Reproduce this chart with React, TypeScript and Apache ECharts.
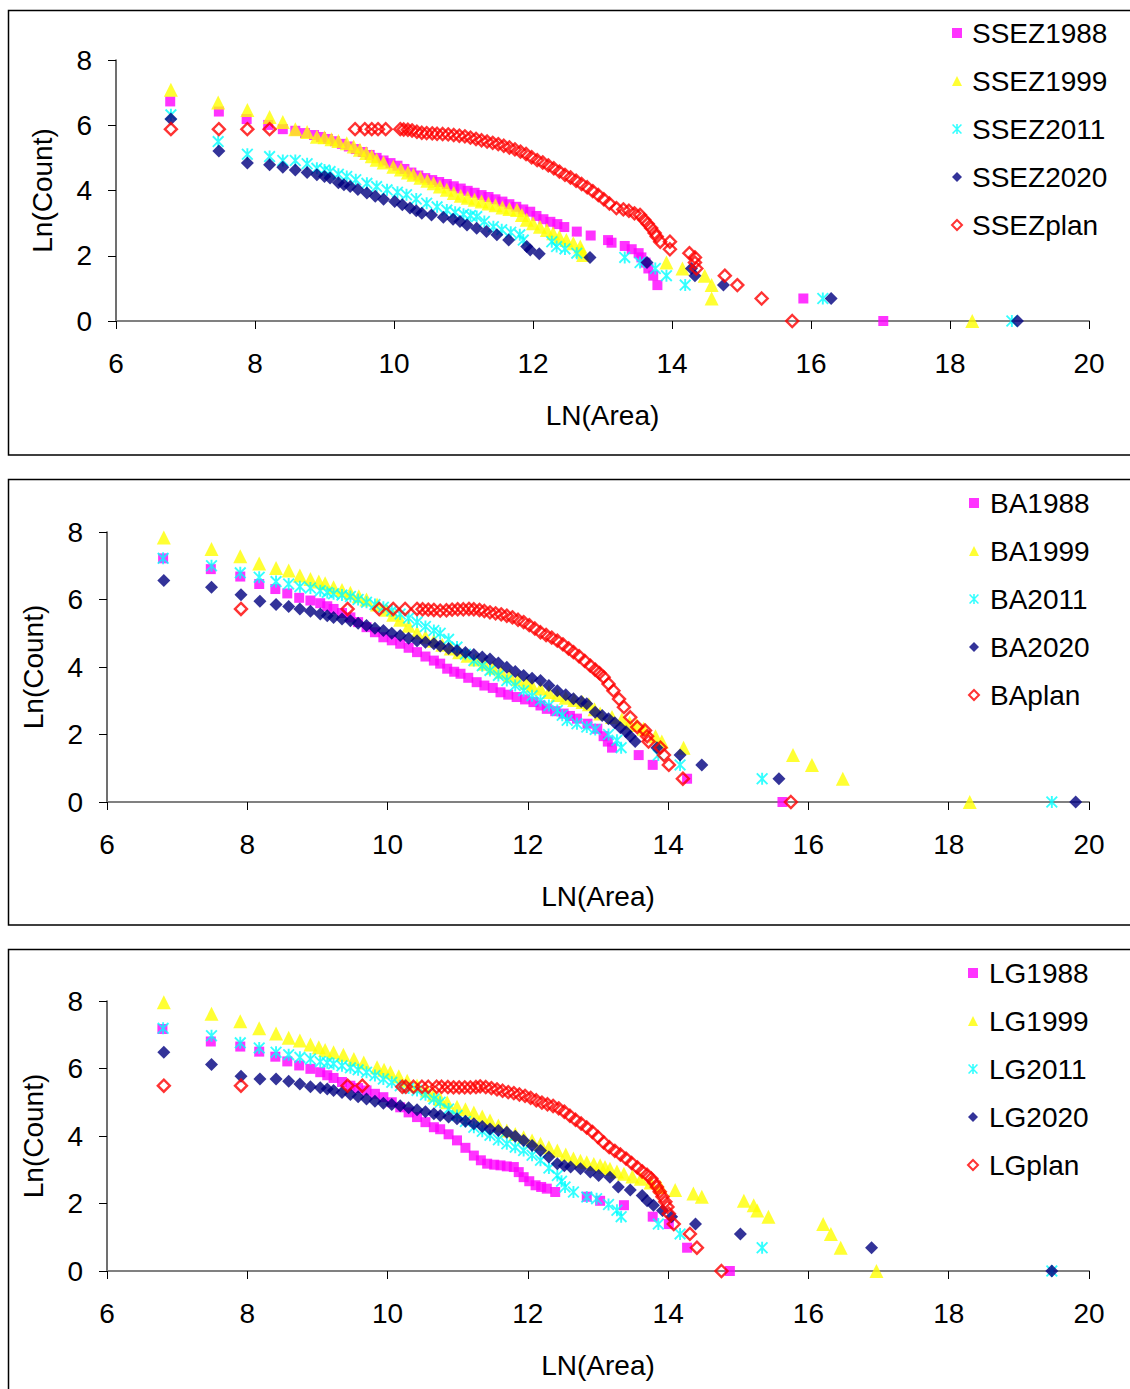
import React, { useEffect, useRef } from "react";
import * as echarts from "echarts";

// ---- SSEZ panel: [ln(area), ln(count)] ----
const ssez1988 = [[6.78,6.73],[7.48,6.42],[7.88,6.19],[8.19,6.01],[8.40,5.88],[8.58,5.83],[8.72,5.76],[8.85,5.70],[8.95,5.64],[9.05,5.58],[9.15,5.51],[9.25,5.43],[9.35,5.35],[9.45,5.27],[9.55,5.18],[9.65,5.09],[9.75,5.00],[9.85,4.92],[9.95,4.84],[10.05,4.76],[10.15,4.66],[10.25,4.55],[10.35,4.46],[10.45,4.38],[10.55,4.32],[10.65,4.26],[10.76,4.20],[10.86,4.13],[10.96,4.06],[11.06,3.99],[11.16,3.93],[11.26,3.86],[11.36,3.80],[11.46,3.73],[11.56,3.66],[11.66,3.58],[11.76,3.50],[11.86,3.42],[11.96,3.35],[12.05,3.22],[12.15,3.12],[12.25,3.04],[12.35,2.97],[12.45,2.88],[12.63,2.74],[12.83,2.62],[13.08,2.48],[13.13,2.40],[13.32,2.30],[13.42,2.20],[13.52,2.08],[13.56,1.95],[13.62,1.79],[13.66,1.61],[13.73,1.39],[13.79,1.10],[15.89,0.69],[17.04,0]];
const ssez1999 = [[6.79,7.09],[7.47,6.70],[7.89,6.47],[8.21,6.25],[8.40,6.10],[8.58,5.88],[8.75,5.79],[8.89,5.65],[9.00,5.63],[9.10,5.57],[9.20,5.52],[9.32,5.45],[9.42,5.35],[9.51,5.25],[9.60,5.15],[9.68,5.05],[9.75,4.94],[9.85,4.86],[9.99,4.73],[10.10,4.64],[10.20,4.55],[10.28,4.48],[10.38,4.39],[10.48,4.30],[10.57,4.22],[10.66,4.12],[10.76,4.02],[10.86,3.92],[10.96,3.84],[11.06,3.78],[11.16,3.72],[11.26,3.66],[11.36,3.60],[11.46,3.55],[11.56,3.48],[11.66,3.43],[11.77,3.40],[11.84,3.25],[11.91,3.10],[12.00,3.00],[12.10,2.89],[12.20,2.79],[12.29,2.69],[12.38,2.58],[12.48,2.48],[12.58,2.38],[12.68,2.28],[12.70,2.15],[12.72,2.02],[13.92,1.79],[14.15,1.61],[14.47,1.39],[14.57,1.10],[14.57,0.69],[18.32,0]];
const ssez2011 = [[6.79,6.32],[7.47,5.50],[7.89,5.11],[8.21,5.04],[8.40,4.92],[8.58,4.92],[8.75,4.82],[8.89,4.68],[9.00,4.63],[9.08,4.58],[9.20,4.50],[9.32,4.43],[9.45,4.33],[9.61,4.22],[9.75,4.12],[9.90,4.02],[10.05,3.95],[10.18,3.87],[10.32,3.74],[10.47,3.61],[10.62,3.50],[10.76,3.40],[10.88,3.33],[11.00,3.27],[11.10,3.23],[11.19,3.20],[11.30,3.05],[11.43,2.89],[11.55,2.80],[11.68,2.72],[11.81,2.64],[11.86,2.48],[12.27,2.43],[12.34,2.28],[12.46,2.21],[12.63,2.08],[13.32,1.95],[13.54,1.79],[13.76,1.61],[13.92,1.39],[14.19,1.10],[16.17,0.69],[18.89,0]];
const ssez2020 = [[6.79,6.19],[7.48,5.21],[7.89,4.84],[8.21,4.79],[8.40,4.71],[8.58,4.63],[8.75,4.55],[8.89,4.48],[9.00,4.43],[9.08,4.38],[9.20,4.24],[9.28,4.18],[9.37,4.12],[9.48,4.03],[9.61,3.92],[9.73,3.82],[9.85,3.73],[10.01,3.66],[10.12,3.56],[10.23,3.46],[10.32,3.38],[10.40,3.30],[10.54,3.25],[10.71,3.18],[10.85,3.12],[10.95,3.05],[11.05,2.94],[11.19,2.84],[11.33,2.74],[11.48,2.64],[11.65,2.48],[11.91,2.28],[11.96,2.18],[12.09,2.06],[12.82,1.95],[13.64,1.79],[14.28,1.61],[14.33,1.39],[14.74,1.10],[16.29,0.69],[18.97,0]];
const ssezPlan = [[6.79,5.88],[7.48,5.88],[7.89,5.88],[8.21,5.88],[9.44,5.88],[9.58,5.88],[9.68,5.88],[9.77,5.88],[9.88,5.88],[10.09,5.88],[10.14,5.87],[10.20,5.86],[10.26,5.84],[10.33,5.80],[10.40,5.77],[10.47,5.76],[10.55,5.75],[10.62,5.74],[10.70,5.73],[10.78,5.72],[10.86,5.70],[10.94,5.68],[11.02,5.66],[11.10,5.62],[11.18,5.58],[11.26,5.54],[11.34,5.50],[11.42,5.46],[11.50,5.42],[11.58,5.37],[11.66,5.32],[11.74,5.26],[11.82,5.19],[11.90,5.12],[11.98,5.02],[12.06,4.93],[12.14,4.86],[12.22,4.77],[12.30,4.68],[12.38,4.58],[12.46,4.48],[12.54,4.40],[12.62,4.30],[12.70,4.20],[12.78,4.10],[12.86,3.98],[12.94,3.86],[13.02,3.73],[13.10,3.60],[13.20,3.46],[13.30,3.42],[13.38,3.38],[13.46,3.30],[13.54,3.25],[13.60,3.10],[13.65,2.98],[13.70,2.85],[13.75,2.70],[13.78,2.59],[13.83,2.43],[13.97,2.43],[13.97,2.20],[14.25,2.08],[14.33,1.95],[14.33,1.79],[14.35,1.61],[14.76,1.39],[14.94,1.10],[15.29,0.69],[15.73,0]];

// ---- BA panel ----
const ba1988 = [[6.80,7.22],[7.48,6.90],[7.90,6.68],[8.17,6.46],[8.40,6.31],[8.57,6.18],[8.74,6.05],[8.90,5.97],[9.04,5.89],[9.14,5.80],[9.23,5.72],[9.35,5.60],[9.47,5.47],[9.58,5.33],[9.70,5.18],[9.82,5.03],[9.94,4.88],[10.06,4.79],[10.18,4.69],[10.30,4.57],[10.42,4.44],[10.54,4.31],[10.66,4.19],[10.75,4.10],[10.85,3.95],[10.95,3.86],[11.04,3.80],[11.15,3.68],[11.27,3.55],[11.38,3.45],[11.50,3.38],[11.61,3.25],[11.72,3.18],[11.84,3.11],[11.96,3.04],[12.08,2.96],[12.18,2.86],[12.27,2.76],[12.39,2.69],[12.51,2.62],[12.60,2.55],[12.70,2.47],[12.85,2.32],[12.99,2.17],[13.08,1.95],[13.14,1.79],[13.20,1.61],[13.58,1.39],[13.78,1.10],[14.27,0.69],[15.63,0]];
const ba1999 = [[6.81,7.84],[7.49,7.50],[7.90,7.28],[8.17,7.07],[8.41,6.93],[8.59,6.86],[8.75,6.71],[8.90,6.61],[9.02,6.53],[9.11,6.48],[9.23,6.36],[9.35,6.28],[9.47,6.20],[9.59,6.10],[9.70,6.00],[9.85,5.85],[9.98,5.70],[10.08,5.55],[10.18,5.40],[10.30,5.22],[10.42,5.02],[10.54,4.90],[10.66,4.78],[10.78,4.66],[10.90,4.55],[11.02,4.44],[11.14,4.33],[11.26,4.22],[11.38,4.10],[11.50,3.98],[11.62,3.86],[11.74,3.75],[11.86,3.64],[11.98,3.53],[12.06,3.45],[12.18,3.36],[12.30,3.26],[12.42,3.17],[12.54,3.09],[12.66,3.02],[12.78,2.96],[12.87,2.90],[12.95,2.75],[13.03,2.62],[13.20,2.52],[13.34,2.45],[13.45,2.35],[13.55,2.28],[13.65,2.17],[13.82,1.95],[13.91,1.79],[14.22,1.61],[15.78,1.39],[16.05,1.10],[16.49,0.69],[18.30,0]];
const ba2011 = [[6.80,7.22],[7.49,7.00],[7.90,6.79],[8.17,6.66],[8.41,6.53],[8.59,6.46],[8.75,6.38],[8.90,6.34],[9.04,6.26],[9.14,6.21],[9.23,6.17],[9.35,6.13],[9.47,6.09],[9.58,6.00],[9.70,5.92],[9.82,5.85],[9.94,5.77],[10.06,5.67],[10.18,5.57],[10.30,5.45],[10.42,5.33],[10.54,5.20],[10.66,5.08],[10.75,5.00],[10.87,4.82],[10.99,4.59],[11.11,4.38],[11.23,4.19],[11.35,4.04],[11.46,3.90],[11.58,3.75],[11.70,3.60],[11.82,3.45],[11.94,3.30],[12.06,3.15],[12.18,3.01],[12.30,2.86],[12.42,2.71],[12.49,2.57],[12.56,2.42],[12.70,2.32],[12.84,2.22],[12.96,2.15],[13.15,2.00],[13.27,1.83],[13.33,1.61],[13.86,1.39],[14.17,1.10],[15.34,0.69],[19.47,0]];
const ba2020 = [[6.81,6.56],[7.49,6.36],[7.91,6.14],[8.18,5.95],[8.41,5.85],[8.59,5.79],[8.75,5.72],[8.90,5.65],[9.04,5.57],[9.14,5.52],[9.23,5.47],[9.35,5.42],[9.47,5.37],[9.58,5.30],[9.70,5.23],[9.82,5.15],[9.94,5.08],[10.06,5.00],[10.18,4.93],[10.30,4.85],[10.42,4.78],[10.54,4.73],[10.66,4.69],[10.75,4.62],[10.87,4.55],[10.99,4.49],[11.11,4.43],[11.23,4.37],[11.35,4.30],[11.46,4.24],[11.58,4.12],[11.70,3.99],[11.82,3.87],[11.94,3.75],[12.06,3.67],[12.18,3.60],[12.30,3.45],[12.42,3.30],[12.54,3.18],[12.65,3.06],[12.76,2.98],[12.84,2.91],[12.96,2.66],[13.06,2.56],[13.15,2.47],[13.24,2.35],[13.32,2.20],[13.40,2.08],[13.46,1.95],[13.53,1.79],[13.84,1.61],[14.17,1.39],[14.48,1.10],[15.58,0.69],[19.81,0]];
const baPlan = [[7.91,5.72],[9.43,5.72],[9.88,5.72],[10.08,5.72],[10.25,5.72],[10.42,5.72],[10.50,5.71],[10.58,5.70],[10.66,5.69],[10.75,5.67],[10.84,5.68],[10.92,5.70],[11.00,5.71],[11.08,5.71],[11.16,5.72],[11.23,5.71],[11.31,5.69],[11.38,5.66],[11.46,5.62],[11.54,5.59],[11.62,5.56],[11.70,5.52],[11.78,5.47],[11.86,5.40],[11.94,5.33],[12.02,5.24],[12.10,5.14],[12.18,5.03],[12.26,4.95],[12.34,4.87],[12.42,4.78],[12.50,4.67],[12.58,4.55],[12.65,4.44],[12.73,4.32],[12.81,4.18],[12.89,4.04],[12.96,3.92],[13.02,3.82],[13.08,3.70],[13.15,3.50],[13.22,3.30],[13.30,3.05],[13.37,2.81],[13.46,2.51],[13.56,2.22],[13.67,2.12],[13.70,1.95],[13.72,1.79],[13.89,1.61],[13.94,1.39],[14.01,1.10],[14.21,0.69],[15.75,0]];

// ---- LG panel ----
const lg1988 = [[6.79,7.17],[7.48,6.80],[7.90,6.65],[8.17,6.50],[8.40,6.35],[8.57,6.21],[8.74,6.09],[8.90,5.99],[9.04,5.89],[9.14,5.80],[9.23,5.72],[9.35,5.60],[9.47,5.49],[9.58,5.42],[9.70,5.35],[9.82,5.25],[9.94,5.15],[10.06,5.00],[10.18,4.85],[10.30,4.70],[10.42,4.56],[10.54,4.41],[10.66,4.26],[10.75,4.20],[10.87,4.05],[10.99,3.87],[11.11,3.65],[11.23,3.42],[11.33,3.28],[11.42,3.18],[11.52,3.15],[11.61,3.13],[11.70,3.10],[11.80,3.08],[11.87,2.93],[11.94,2.78],[12.02,2.66],[12.11,2.54],[12.19,2.49],[12.27,2.44],[12.39,2.34],[12.84,2.20],[13.03,2.08],[13.37,1.95],[13.78,1.61],[14.01,1.39],[14.27,0.69],[14.88,0]];
const lg1999 = [[6.81,7.96],[7.49,7.62],[7.90,7.40],[8.17,7.19],[8.41,7.04],[8.59,6.91],[8.75,6.83],[8.90,6.71],[9.02,6.63],[9.11,6.55],[9.23,6.48],[9.37,6.41],[9.52,6.28],[9.66,6.18],[9.85,6.04],[9.95,5.96],[10.04,5.89],[10.16,5.77],[10.28,5.64],[10.42,5.50],[10.56,5.35],[10.66,5.22],[10.75,5.10],[10.85,5.00],[10.99,4.87],[11.11,4.79],[11.23,4.70],[11.35,4.58],[11.46,4.46],[11.58,4.31],[11.70,4.16],[11.82,4.06],[11.94,3.96],[12.06,3.87],[12.18,3.77],[12.30,3.67],[12.42,3.57],[12.54,3.45],[12.65,3.33],[12.75,3.27],[12.84,3.22],[12.94,3.17],[13.03,3.13],[13.10,3.08],[13.17,3.03],[13.27,2.95],[13.37,2.88],[13.49,2.80],[13.61,2.73],[13.75,2.62],[13.89,2.49],[14.10,2.40],[14.36,2.30],[14.48,2.20],[15.08,2.08],[15.22,1.95],[15.27,1.79],[15.43,1.61],[16.21,1.39],[16.32,1.10],[16.46,0.69],[16.97,0]];
const lg2011 = [[6.80,7.19],[7.49,6.97],[7.90,6.76],[8.17,6.61],[8.41,6.48],[8.59,6.41],[8.75,6.33],[8.90,6.28],[9.04,6.20],[9.14,6.17],[9.23,6.14],[9.35,6.08],[9.47,6.02],[9.58,5.96],[9.70,5.89],[9.82,5.79],[9.94,5.69],[10.06,5.59],[10.18,5.49],[10.30,5.42],[10.42,5.35],[10.54,5.22],[10.66,5.10],[10.75,5.00],[10.87,4.80],[10.99,4.61],[11.11,4.43],[11.23,4.26],[11.35,4.14],[11.46,4.02],[11.58,3.89],[11.70,3.77],[11.82,3.67],[11.94,3.57],[12.06,3.43],[12.18,3.28],[12.30,3.05],[12.42,2.83],[12.48,2.66],[12.53,2.49],[12.65,2.34],[12.84,2.19],[12.98,2.14],[13.15,1.97],[13.27,1.80],[13.33,1.61],[13.86,1.39],[14.17,1.10],[15.34,0.69],[19.47,0]];
const lg2020 = [[6.81,6.48],[7.49,6.12],[7.91,5.77],[8.18,5.69],[8.41,5.69],[8.59,5.62],[8.75,5.54],[8.90,5.46],[9.04,5.43],[9.14,5.39],[9.23,5.35],[9.35,5.29],[9.47,5.23],[9.58,5.16],[9.70,5.10],[9.82,5.03],[9.94,4.97],[10.06,4.93],[10.18,4.90],[10.30,4.84],[10.42,4.78],[10.54,4.72],[10.66,4.66],[10.75,4.61],[10.87,4.56],[10.99,4.51],[11.11,4.44],[11.23,4.36],[11.35,4.28],[11.46,4.21],[11.58,4.16],[11.70,4.11],[11.82,3.99],[11.94,3.87],[12.06,3.72],[12.18,3.57],[12.30,3.38],[12.42,3.18],[12.52,3.12],[12.61,3.08],[12.75,3.03],[12.89,2.93],[13.01,2.83],[13.17,2.78],[13.29,2.49],[13.46,2.40],[13.63,2.24],[13.70,2.08],[13.79,1.95],[13.92,1.79],[14.05,1.61],[14.39,1.39],[15.03,1.10],[16.90,0.69],[19.47,0]];
const lgPlan = [[6.81,5.49],[7.91,5.49],[9.43,5.49],[9.64,5.49],[10.21,5.46],[10.26,5.46],[10.37,5.46],[10.49,5.46],[10.58,5.46],[10.70,5.46],[10.77,5.46],[10.86,5.45],[10.94,5.44],[11.02,5.44],[11.10,5.44],[11.18,5.44],[11.26,5.45],[11.32,5.47],[11.40,5.45],[11.48,5.42],[11.56,5.38],[11.64,5.34],[11.72,5.30],[11.80,5.27],[11.88,5.23],[11.96,5.19],[12.04,5.13],[12.12,5.06],[12.20,4.99],[12.28,4.94],[12.36,4.89],[12.44,4.82],[12.52,4.72],[12.60,4.60],[12.68,4.48],[12.76,4.37],[12.84,4.25],[12.92,4.12],[13.00,3.97],[13.08,3.81],[13.16,3.67],[13.24,3.56],[13.32,3.45],[13.40,3.33],[13.48,3.20],[13.56,3.07],[13.63,2.95],[13.70,2.85],[13.76,2.74],[13.80,2.62],[13.84,2.49],[13.88,2.35],[13.92,2.20],[13.96,2.05],[13.99,1.90],[14.01,1.70],[14.08,1.39],[14.31,1.10],[14.41,0.69],[14.76,0]];

const xTicks = { min: 6, max: 20, interval: 2 };
const yTicks = { min: 0, max: 8, interval: 2 };

const FONT = "'Liberation Sans', Arial, sans-serif";
const ASTERISK =
  "path://M4.2 0L5.8 0L5.8 10L4.2 10Z M1.1 0L10 8.9L8.9 10L0 1.1Z M8.9 0L10 1.1L1.1 10L0 8.9Z";

// marker look for the five series of every panel, in drawing order
const markers = [
  { symbol: "rect", size: 10, itemStyle: { color: "#FF00FF" } },
  { symbol: "triangle", size: 14, itemStyle: { color: "#FFFF00" } },
  { symbol: ASTERISK, size: 12, itemStyle: { color: "#00FFFF" } },
  { symbol: "diamond", size: 13, itemStyle: { color: "#000080" } },
  {
    symbol: "diamond",
    size: 12,
    itemStyle: { color: "rgba(255,255,255,0)", borderColor: "#FF0000", borderWidth: 2.4 },
  },
];

const panels = [
  {
    names: ["SSEZ1988", "SSEZ1999", "SSEZ2011", "SSEZ2020", "SSEZplan"],
    data: [ssez1988, ssez1999, ssez2011, ssez2020, ssezPlan],
    grid: { left: 116, top: 60, width: 973, height: 261 },
    legend: { left: 946, top: 14, pad: 5 },
  },
  {
    names: ["BA1988", "BA1999", "BA2011", "BA2020", "BAplan"],
    data: [ba1988, ba1999, ba2011, ba2020, baPlan],
    grid: { left: 107, top: 532, width: 982, height: 270 },
    legend: { left: 963, top: 484, pad: 6 },
  },
  {
    names: ["LG1988", "LG1999", "LG2011", "LG2020", "LGplan"],
    data: [lg1988, lg1999, lg2011, lg2020, lgPlan],
    grid: { left: 107, top: 1001, width: 982, height: 270 },
    legend: { left: 962, top: 954, pad: 6 },
  },
];

const boxes = [
  { y: 10.5, h: 444.5 },
  { y: 479.5, h: 445.5 },
  { y: 949.5, h: 470 },
];

function buildOption() {
  const grid = panels.map((p) => p.grid);
  const xAxis = panels.map((_, i) => ({
    gridIndex: i,
    type: "value",
    ...xTicks,
    name: "LN(Area)",
    nameLocation: "middle",
    nameGap: 80,
    nameTextStyle: { fontSize: 28, color: "#000", fontFamily: FONT },
    axisLine: { show: true, onZero: false, lineStyle: { color: "#808080", width: 2 } },
    axisTick: { show: true, length: 8, lineStyle: { color: "#000", width: 1 } },
    axisLabel: { fontSize: 28, color: "#000", margin: 28, fontFamily: FONT },
    splitLine: { show: false },
  }));
  const yAxis = panels.map((_, i) => ({
    gridIndex: i,
    type: "value",
    ...yTicks,
    name: "Ln(Count)",
    nameLocation: "middle",
    nameGap: 60,
    nameTextStyle: { fontSize: 28, color: "#000", fontFamily: FONT },
    axisLine: { show: true, onZero: false, lineStyle: { color: "#404040", width: 1.5 } },
    axisTick: { show: true, length: 8, lineStyle: { color: "#000", width: 1 } },
    axisLabel: { fontSize: 28, color: "#000", margin: 24, fontFamily: FONT },
    splitLine: { show: false },
  }));
  const series: any[] = [];
  panels.forEach((p, i) => {
    p.names.forEach((name, k) => {
      const m = markers[k];
      series.push({
        type: "scatter",
        name,
        xAxisIndex: i,
        yAxisIndex: i,
        data: p.data[k],
        symbol: m.symbol,
        symbolSize: m.size,
        itemStyle: m.itemStyle,
        emphasis: { disabled: true },
        z: 2 + k,
      });
    });
  });
  const legend = panels.map((p) => ({
    orient: "vertical",
    left: p.legend.left,
    top: p.legend.top,
    itemWidth: 10,
    itemHeight: 10,
    itemGap: 20,
    textStyle: {
      fontSize: 28,
      lineHeight: 28,
      color: "#000",
      fontFamily: FONT,
      padding: [0, 0, 0, p.legend.pad],
    },
    data: p.names.map((name, k) => ({
      name,
      icon: markers[k].symbol,
      itemStyle:
        k === 4
          ? { color: "#fff", borderColor: "#FF0000", borderWidth: 2 }
          : markers[k].itemStyle,
    })),
    selectedMode: false,
  }));
  const graphic = boxes.map((b) => ({
    type: "rect",
    silent: true,
    z: -1,
    shape: { x: 8.5, y: b.y, width: 1200, height: b.h },
    style: { fill: "none", stroke: "#000", lineWidth: 1.5 },
  }));
  return {
    animation: false,
    backgroundColor: "#fff",
    textStyle: { fontFamily: FONT },
    grid,
    xAxis,
    yAxis,
    legend,
    series,
    graphic,
  };
}

export default function App() {
  const ref = useRef<HTMLDivElement>(null);
  useEffect(() => {
    if (!ref.current) return;
    const chart = echarts.init(ref.current, undefined, { renderer: "svg" });
    chart.setOption(buildOption());
    return () => chart.dispose();
  }, []);
  return (
    <div
      ref={ref}
      style={{ position: "absolute", left: 0, top: 0, width: 1130, height: 1389 }}
    />
  );
}
